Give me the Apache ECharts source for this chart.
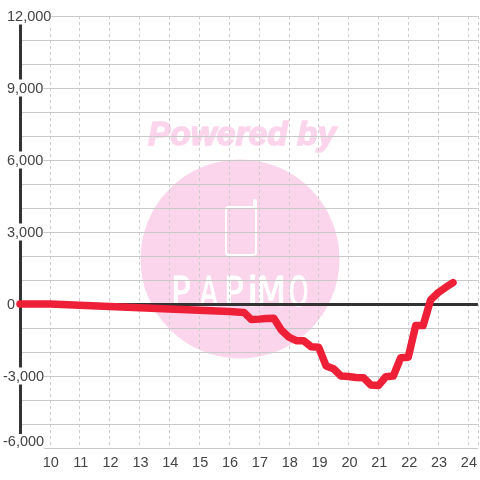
<!DOCTYPE html>
<html>
<head>
<meta charset="utf-8">
<style>html,body{margin:0;padding:0;background:#fff}#main{width:480px;height:480px}</style>
<script src="https://cdn.jsdelivr.net/npm/echarts@6/dist/echarts.min.js"></script>
</head>
<body>
<div id="main"></div>
<script>
// hours, quarter-hourly from 16:30 on
var hours = [9, 10, 11, 12, 13, 14, 15, 16, 16.5, 16.75, 17, 17.25, 17.5, 17.75, 18, 18.25, 18.5, 18.75, 19, 19.25, 19.5, 19.75, 20, 20.25, 20.5, 20.75, 21, 21.25, 21.5, 21.75, 22, 22.25, 22.5, 22.75, 23, 23.25, 23.5];
var values = [0, 0, -55, -105, -160, -210, -265, -315, -350, -650, -630, -600, -590, -1080, -1375, -1530, -1530, -1780, -1800, -2580, -2700, -3000, -3020, -3060, -3070, -3375, -3400, -3030, -3000, -2240, -2220, -900, -900, 170, 470, 690, 890];
var logoLetters = ['P', 'A', 'P', 'i', 'M', 'O'];
var logoLetterX = [171, 200, 224, 247, 256, 289];
var logoLetterScale = [0.8, 0.63, 0.8, 1, 0.85, 0.6];

var points = hours.map(function(h, i){ return [h, values[i]]; });
var labelFont = { fontFamily: '"Liberation Sans"', fontSize: 14.5, color: '#444' };

var logo = [
    { type: 'circle', z: -1, shape: { cx: 240, cy: 259, r: 99.5 }, style: { fill: '#fbd5ec' } },
    { type: 'text', z: -1, x: 148, y: 119, style: { text: 'Powered by', fill: '#fbd5ec', stroke: '#fbd5ec', lineWidth: 1.5, lineJoin: 'round', font: 'italic bold 33.5px "Liberation Sans"' } },
    { type: 'rect', z: -1, shape: { x: 226, y: 207, width: 30, height: 48, r: 3 }, style: { fill: null, stroke: '#fff', lineWidth: 2 } },
    { type: 'rect', z: -1, shape: { x: 253, y: 199, width: 4, height: 10, r: 2 }, style: { fill: '#fff' } }
];
logoLetters.forEach(function(l, i){
    logo.push({ type: 'text', z: -1, x: logoLetterX[i], y: 275, scaleX: logoLetterScale[i], style: { text: l, fill: '#fff', stroke: '#fff', lineWidth: 1, lineJoin: 'round', font: '41px "DejaVu Sans"' } });
});

var myChart = echarts.init(document.getElementById('main'), null, { renderer: 'canvas' });
var option = {
    animation: false,
    backgroundColor: '#fff',
    graphic: logo,
    grid: { left: 20, right: 0, top: 16, bottom: 32 },
    xAxis: {
        type: 'value',
        min: 9,
        max: 24.333,
        interval: 1,
        axisLine: { show: false },
        axisTick: { show: false },
        axisLabel: Object.assign({ margin: 7, padding: [0, 0, 0, 2], showMinLabel: false, showMaxLabel: false }, labelFont),
        splitLine: { show: true, lineStyle: { color: '#ccc', type: [3, 3], width: 1 } }
    },
    yAxis: {
        type: 'value',
        min: -6000,
        max: 12000,
        interval: 3000,
        axisLine: { show: true, onZero: false, lineStyle: { color: '#333', width: 3 } },
        axisTick: { show: false },
        minorTick: { show: false, splitNumber: 3 },
        minorSplitLine: { show: true, lineStyle: { color: '#c8c8c8', width: 1 } },
        splitLine: { show: true, lineStyle: { color: '#c8c8c8', width: 1 } },
        axisLabel: Object.assign({
            margin: 17,
            align: 'left',
            formatter: function(v){
                var s = v.toLocaleString('en-US');
                // lowest label sits above its line, as in the reference
                if (v === -6000) return '{b|' + s + '}';
                if (v < 0) return '{n|' + s + '}';
                return '{p|' + s + '}';
            },
            rich: {
                b: { fontFamily: '"Liberation Sans"', fontSize: 14.5, color: '#444', backgroundColor: '#fff', padding: [0, 0, 13, 0] },
                n: { fontFamily: '"Liberation Sans"', fontSize: 14.5, color: '#444', backgroundColor: '#fff', padding: [2, 0, 0, 0] },
                p: { fontFamily: '"Liberation Sans"', fontSize: 14.5, color: '#444', backgroundColor: '#fff', padding: [2, 0, 0, 4] }
            }
        }, labelFont)
    },
    series: [{
        type: 'line',
        data: points,
        showSymbol: false,
        symbol: 'none',
        clip: false,
        lineStyle: { color: '#ee2038', width: 7.5, cap: 'round', join: 'round' },
        markLine: {
            silent: true,
            z: 1,
            symbol: 'none',
            label: { show: false },
            lineStyle: { color: '#333', width: 3, type: 'solid' },
            data: [{ yAxis: 0 }]
        }
    }]
};
myChart.setOption(option);
</script>
</body>
</html>
